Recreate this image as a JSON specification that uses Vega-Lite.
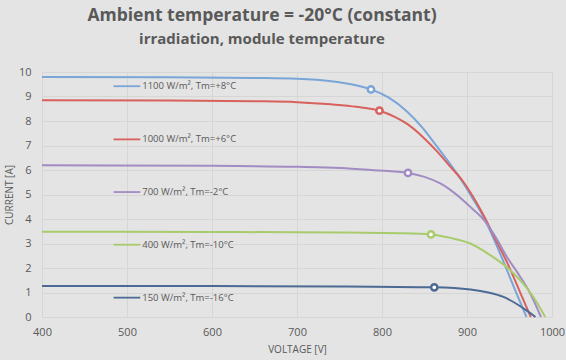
{
  "$schema": "https://vega.github.io/schema/vega-lite/v6.json",
  "width": 510,
  "height": 245,
  "autosize": "none",
  "padding": {"left": 42, "top": 72, "right": 14, "bottom": 43},
  "background": "#e4e4e4",
  "config": {
    "view": {"stroke": null},
    "font": "Open Sans",
    "axis": {
      "grid": true,
      "gridColor": "#d6d6d6",
      "gridWidth": 1,
      "domain": false,
      "ticks": false,
      "labelOverlap": false,
      "labelColor": "#595959",
      "labelFontSize": 11,
      "labelFont": "Open Sans",
      "titleColor": "#595959",
      "titleFontSize": 10,
      "titleFontWeight": "normal",
      "titleFont": "Open Sans"
    }
  },
  "title": {
    "text": "Ambient temperature = -20°C (constant)",
    "subtitle": "irradiation, module temperature",
    "font": "Open Sans",
    "subtitleFont": "Open Sans",
    "fontSize": 17.5,
    "subtitleFontSize": 15,
    "fontWeight": "bold",
    "subtitleFontWeight": "bold",
    "color": "#595959",
    "subtitleColor": "#595959",
    "anchor": "middle",
    "dx": -35,
    "offset": 19,
    "subtitlePadding": 8
  },
  "datasets": {
    "curves": [
      {"s": "1100", "v": 400, "i": 9.80}, {"s": "1100", "v": 550, "i": 9.79}, {"s": "1100", "v": 650, "i": 9.76}, {"s": "1100", "v": 700, "i": 9.72}, {"s": "1100", "v": 740, "i": 9.62}, {"s": "1100", "v": 765, "i": 9.49}, {"s": "1100", "v": 787, "i": 9.29}, {"s": "1100", "v": 808, "i": 8.95}, {"s": "1100", "v": 829, "i": 8.40}, {"s": "1100", "v": 847, "i": 7.75}, {"s": "1100", "v": 865, "i": 6.94}, {"s": "1100", "v": 880, "i": 6.25}, {"s": "1100", "v": 894, "i": 5.55}, {"s": "1100", "v": 907, "i": 4.82}, {"s": "1100", "v": 919.5, "i": 4.08}, {"s": "1100", "v": 932, "i": 3.15}, {"s": "1100", "v": 943, "i": 2.25}, {"s": "1100", "v": 956, "i": 1.15}, {"s": "1100", "v": 970, "i": 0},
      {"s": "1000", "v": 400, "i": 8.85}, {"s": "1000", "v": 550, "i": 8.84}, {"s": "1000", "v": 650, "i": 8.81}, {"s": "1000", "v": 700, "i": 8.77}, {"s": "1000", "v": 740, "i": 8.68}, {"s": "1000", "v": 770, "i": 8.58}, {"s": "1000", "v": 797, "i": 8.42}, {"s": "1000", "v": 815, "i": 8.17}, {"s": "1000", "v": 830, "i": 7.87}, {"s": "1000", "v": 848, "i": 7.35}, {"s": "1000", "v": 865, "i": 6.75}, {"s": "1000", "v": 880, "i": 6.15}, {"s": "1000", "v": 895, "i": 5.55}, {"s": "1000", "v": 907, "i": 4.92}, {"s": "1000", "v": 919.5, "i": 4.15}, {"s": "1000", "v": 933, "i": 3.20}, {"s": "1000", "v": 947.8, "i": 2.18}, {"s": "1000", "v": 962, "i": 1.05}, {"s": "1000", "v": 975, "i": 0},
      {"s": "700", "v": 400, "i": 6.19}, {"s": "700", "v": 600, "i": 6.17}, {"s": "700", "v": 700, "i": 6.13}, {"s": "700", "v": 751, "i": 6.08}, {"s": "700", "v": 790, "i": 5.99}, {"s": "700", "v": 830.6, "i": 5.88}, {"s": "700", "v": 850, "i": 5.72}, {"s": "700", "v": 868.6, "i": 5.45}, {"s": "700", "v": 880, "i": 5.20}, {"s": "700", "v": 895, "i": 4.78}, {"s": "700", "v": 907, "i": 4.40}, {"s": "700", "v": 919.5, "i": 3.98}, {"s": "700", "v": 933, "i": 3.30}, {"s": "700", "v": 947, "i": 2.45}, {"s": "700", "v": 960, "i": 1.78}, {"s": "700", "v": 972.5, "i": 1.09}, {"s": "700", "v": 987, "i": 0},
      {"s": "400", "v": 400, "i": 3.48}, {"s": "400", "v": 600, "i": 3.47}, {"s": "400", "v": 750, "i": 3.45}, {"s": "400", "v": 820, "i": 3.42}, {"s": "400", "v": 857.6, "i": 3.37}, {"s": "400", "v": 880, "i": 3.23}, {"s": "400", "v": 904, "i": 3.0}, {"s": "400", "v": 925, "i": 2.58}, {"s": "400", "v": 949, "i": 1.97}, {"s": "400", "v": 962, "i": 1.52}, {"s": "400", "v": 972.5, "i": 1.09}, {"s": "400", "v": 982, "i": 0.6}, {"s": "400", "v": 992, "i": 0},
      {"s": "150", "v": 400, "i": 1.27}, {"s": "150", "v": 600, "i": 1.265}, {"s": "150", "v": 750, "i": 1.25}, {"s": "150", "v": 861.5, "i": 1.21}, {"s": "150", "v": 904, "i": 1.12}, {"s": "150", "v": 925, "i": 1.0}, {"s": "150", "v": 943, "i": 0.82}, {"s": "150", "v": 962.7, "i": 0.44}, {"s": "150", "v": 972, "i": 0.22}, {"s": "150", "v": 980.6, "i": 0}
    ],
    "mpp": [
      {"s": "1100", "v": 787, "i": 9.29},
      {"s": "1000", "v": 797, "i": 8.42},
      {"s": "700", "v": 830.6, "i": 5.88},
      {"s": "400", "v": 857.6, "i": 3.37},
      {"s": "150", "v": 861.5, "i": 1.21}
    ],
    "labels": [
      {"s": "1100", "v1": 484.2, "v2": 515.6, "i": 9.42, "label": "1100 W/m², Tm=+8°C"},
      {"s": "1000", "v1": 484.2, "v2": 515.6, "i": 7.25, "label": "1000 W/m², Tm=+6°C"},
      {"s": "700", "v1": 484.2, "v2": 515.6, "i": 5.10, "label": "700 W/m², Tm=-2°C"},
      {"s": "400", "v1": 484.2, "v2": 515.6, "i": 2.95, "label": "400 W/m², Tm=-10°C"},
      {"s": "150", "v1": 484.2, "v2": 515.6, "i": 0.79, "label": "150 W/m², Tm=-16°C"}
    ]
  },
  "layer": [
    {
      "data": {"name": "curves"},
      "mark": {"type": "line", "interpolate": "monotone", "strokeWidth": 2},
      "encoding": {
        "x": {"field": "v", "type": "quantitative", "scale": {"domain": [400, 1000], "nice": false, "zero": false},
              "axis": {"values": [400, 500, 600, 700, 800, 900, 1000], "format": "d", "title": "VOLTAGE [V]", "labelPadding": 9, "titlePadding": 7, "labelFlush": false}},
        "y": {"field": "i", "type": "quantitative", "scale": {"domain": [0, 10], "nice": false},
              "axis": {"values": [0, 1, 2, 3, 4, 5, 6, 7, 8, 9, 10], "format": "d", "title": "CURRENT [A]", "labelPadding": 11, "titlePadding": 4}},
        "color": {"field": "s", "type": "nominal", "legend": null,
                  "scale": {"domain": ["1100", "1000", "700", "400", "150"], "range": ["#79a5d8", "#d8615d", "#a18cc3", "#a8cb6c", "#4c6a93"]}}
      }
    },
    {
      "data": {"name": "labels"},
      "mark": {"type": "rule", "strokeWidth": 1.8},
      "encoding": {
        "x": {"field": "v1", "type": "quantitative",
              "axis": {"values": [400, 500, 600, 700, 800, 900, 1000], "format": "d", "title": "VOLTAGE [V]", "labelPadding": 9, "titlePadding": 7, "labelFlush": false}},
        "x2": {"field": "v2"},
        "y": {"field": "i", "type": "quantitative",
              "axis": {"values": [0, 1, 2, 3, 4, 5, 6, 7, 8, 9, 10], "format": "d", "title": "CURRENT [A]", "labelPadding": 11, "titlePadding": 4}},
        "color": {"field": "s", "type": "nominal", "legend": null}
      }
    },
    {
      "data": {"name": "labels"},
      "mark": {"type": "text", "align": "left", "baseline": "middle", "dx": 2, "fontSize": 9.5, "font": "Open Sans", "color": "#595959"},
      "encoding": {
        "x": {"field": "v2", "type": "quantitative",
              "axis": {"values": [400, 500, 600, 700, 800, 900, 1000], "format": "d", "title": "VOLTAGE [V]", "labelPadding": 9, "titlePadding": 7, "labelFlush": false}},
        "y": {"field": "i", "type": "quantitative",
              "axis": {"values": [0, 1, 2, 3, 4, 5, 6, 7, 8, 9, 10], "format": "d", "title": "CURRENT [A]", "labelPadding": 11, "titlePadding": 4}},
        "text": {"field": "label"}
      }
    },
    {
      "data": {"name": "mpp"},
      "mark": {"type": "point", "shape": "circle", "filled": false, "fill": "white", "fillOpacity": 1, "opacity": 1, "strokeWidth": 2.5, "size": 40},
      "encoding": {
        "x": {"field": "v", "type": "quantitative",
              "axis": {"values": [400, 500, 600, 700, 800, 900, 1000], "format": "d", "title": "VOLTAGE [V]", "labelPadding": 9, "titlePadding": 7, "labelFlush": false}},
        "y": {"field": "i", "type": "quantitative",
              "axis": {"values": [0, 1, 2, 3, 4, 5, 6, 7, 8, 9, 10], "format": "d", "title": "CURRENT [A]", "labelPadding": 11, "titlePadding": 4}},
        "color": {"field": "s", "type": "nominal", "legend": null}
      }
    }
  ]
}
